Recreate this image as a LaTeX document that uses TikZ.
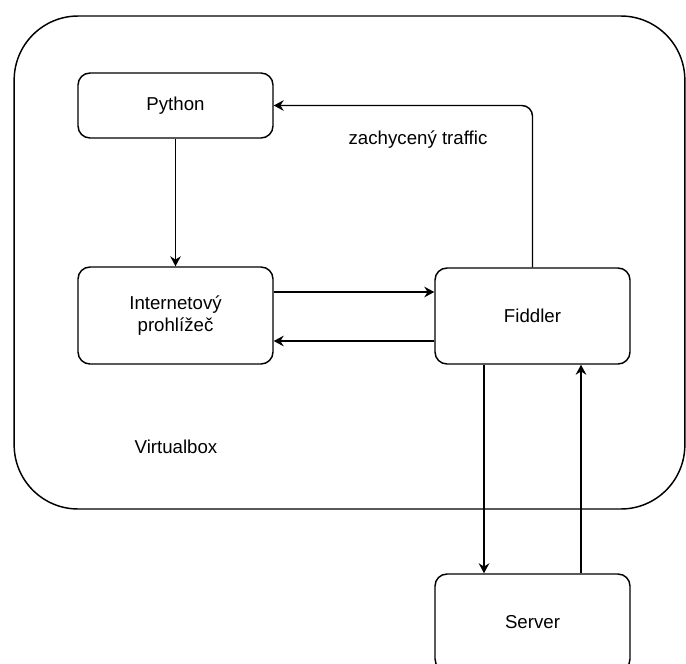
\documentclass[tikz,border=0pt]{standalone}
\usepackage{fontspec}
\setmainfont{Liberation Sans}
\usetikzlibrary{arrows.meta}
\begin{document}
\begin{tikzpicture}[x=0.75pt,y=-0.75pt,
  line width=1.1pt,
  box/.style={draw, rounded corners=9pt, minimum width=146.25pt, inner sep=0pt, align=center, font=\fontsize{14}{16}\selectfont},
  lbl/.style={font=\fontsize{14}{16}\selectfont, inner sep=0pt},
  arr/.style={-{Stealth[length=7.5pt,width=8pt,inset=2.5pt]}}]
\useasboundingbox (0,0) rectangle (686,664);
\node[draw, rounded corners=48pt, minimum width=503pt, minimum height=369.75pt, inner sep=0pt] (vbox) at (349.5,262.5) {};
\node[box, minimum height=48.75pt] (py) at (175.5,105.5) {Python};
\node[box, minimum height=72.75pt] (inet) at (175.5,315.5) {Internetový\\prohlížeč};
\node[box, minimum height=72pt] (fid) at (532.5,316) {Fiddler};
\node[box, minimum height=72.75pt] (srv) at (532.5,622.5) {Server};
\node[lbl] (zt) at (418,140) {zachycený traffic};
\node[lbl] (vb) at (176,447) {Virtualbox};
\draw[arr] (py.south) -- (inet.north);
\draw[arr] (inet.east |- 0,292) -- (fid.west |- 0,292);
\draw[arr] (fid.west |- 0,341) -- (inet.east |- 0,341);
\draw[arr, rounded corners=8pt] (fid.north) |- (py.east);
\draw[arr] (fid.south -| 484,0) -- (srv.north -| 484,0);
\draw[arr] (srv.north -| 581,0) -- (fid.south -| 581,0);
\end{tikzpicture}
\end{document}
